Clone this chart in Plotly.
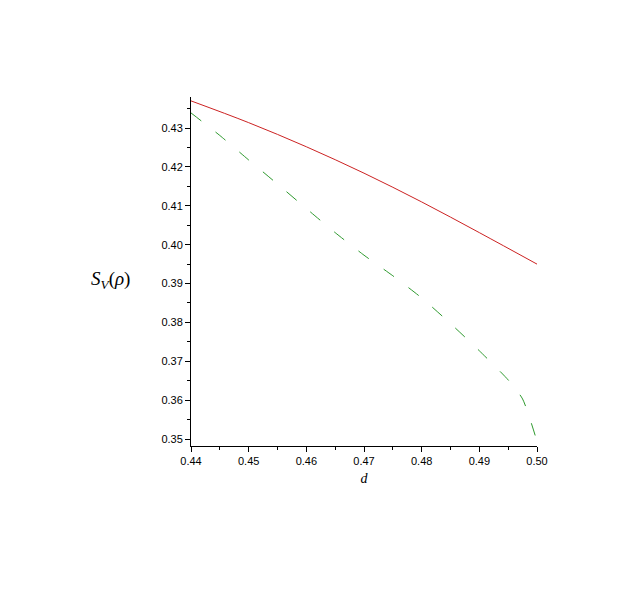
import plotly.graph_objects as go

# values
d_red = [0.44, 0.45, 0.46, 0.47, 0.48, 0.49, 0.50]
s_red = [0.4370, 0.4314, 0.4252, 0.4184, 0.4110, 0.4031, 0.3950]

d_green = [0.44, 0.445, 0.45, 0.455, 0.46, 0.465, 0.47, 0.475, 0.48, 0.485, 0.49, 0.495, 0.4975, 0.50]
s_green = [0.4339, 0.4281, 0.4218, 0.4156, 0.4093, 0.4031, 0.3973, 0.3920, 0.3863, 0.3797, 0.3727, 0.3652, 0.3603, 0.3494]

x_ticks = [0.44, 0.45, 0.46, 0.47, 0.48, 0.49, 0.50]
x_ticklabels = ["0.44", "0.45", "0.46", "0.47", "0.48", "0.49", "0.50"]
y_ticks = [0.35, 0.36, 0.37, 0.38, 0.39, 0.40, 0.41, 0.42, 0.43]
y_ticklabels = ["0.35", "0.36", "0.37", "0.38", "0.39", "0.40", "0.41", "0.42", "0.43"]

fig = go.Figure()
fig.add_trace(go.Scatter(x=d_red, y=s_red, mode="lines", line=dict(color="#cc2222", width=1),
                         line_shape="spline", showlegend=False))
fig.add_trace(go.Scatter(x=d_green, y=s_green, mode="lines",
                         line=dict(color="#2e9a2e", width=1, dash="13px,18px"),
                         line_shape="spline", line_smoothing=0.6, showlegend=False))

axis_common = dict(showline=True, linecolor="black", linewidth=1, ticks="outside", ticklen=5,
                   tickcolor="black", showgrid=False, zeroline=False,
                   tickfont=dict(family="Liberation Sans, Arial", size=11, color="black"),
                   minor=dict(ticks="outside", ticklen=3, tickcolor="black"))

fig.update_layout(
    width=632, height=612,
    # page body adds 8px, so the plot lands at the reference position
    margin=dict(l=183, r=103, t=89, b=174),
    paper_bgcolor="white", plot_bgcolor="white",
    xaxis=dict(range=[0.44, 0.50], tickvals=x_ticks, ticktext=x_ticklabels,
               minor_dtick=0.005, **axis_common,
               title=dict(text="<i>d</i>", font=dict(family="Liberation Serif", size=14, color="black"),
                          standoff=6)),
    yaxis=dict(range=[0.3482, 0.438], tickvals=y_ticks, ticktext=y_ticklabels,
               minor_dtick=0.005, **axis_common),
    annotations=[dict(text="<i>S<sub>V</sub></i>(<i>ρ</i>)", xref="paper", yref="paper",
                      x=-0.234, y=0.476, showarrow=False, xanchor="center", yanchor="middle",
                      font=dict(family="Liberation Serif", size=19, color="black"))],
)

fig.write_html("out.html")
